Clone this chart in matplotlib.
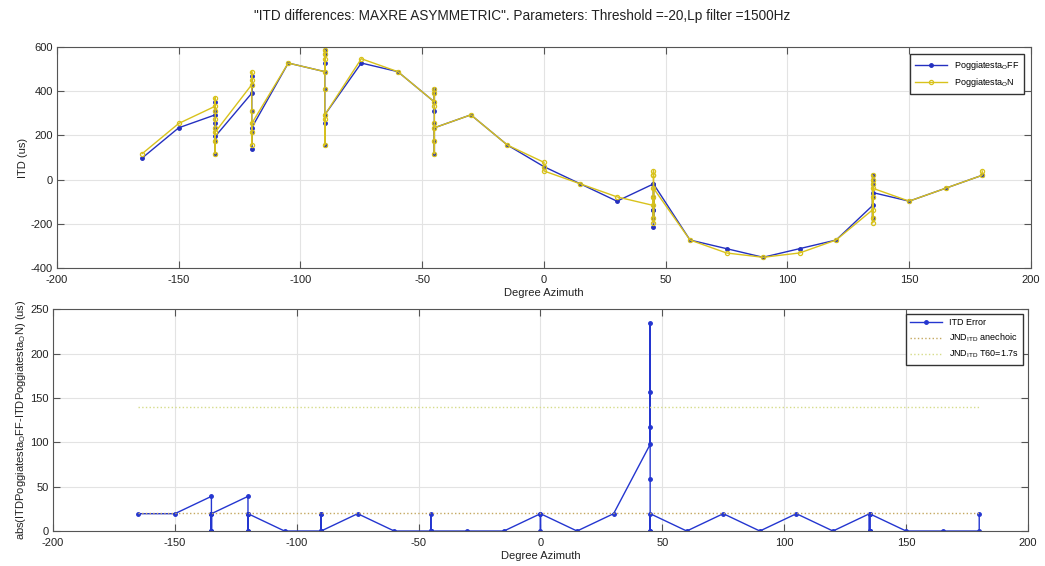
import numpy as np
import matplotlib.pyplot as plt

plt.rcParams['font.family'] = ['Liberation Sans', 'DejaVu Sans']
plt.rcParams['axes.unicode_minus'] = False

# ITD lags in samples (fs = 51200 Hz), one entry per measured direction
fs = 51200.0

azimuth = np.array([
    -165, -150,
    -135, -135, -135, -135, -135, -135, -135, -135,
    -120, -120, -120, -120, -120, -120, -120,
    -105,
    -90, -90, -90, -90, -90, -90, -90, -90,
    -75, -60,
    -45, -45, -45, -45, -45, -45, -45, -45,
    -30, -15,
    0, 0, 0,
    15, 30,
    45, 45, 45, 45, 45, 45, 45, 45,
    60, 75, 90, 105, 120,
    135, 135, 135, 135, 135, 135, 135, 135,
    150, 165,
    180, 180])

lag_ff = np.array([
    5, 12,
    15, 18, 16, 13, 12, 9, 6, 10,
    20, 24, 22, 16, 7, 11, 12,
    27,
    25, 30, 29, 27, 21, 13, 8, 15,
    27, 25,
    18, 21, 20, 16, 13, 9, 6, 12,
    15, 8,
    3, 3, 3,
    -1, -5,
    -1, -11, -7, -4, -7, -4, -9, -1,
    -14, -16, -18, -16, -14,
    -6, 1, 0, -1, -9, -4, -9, -3,
    -5, -2,
    1, 1])

lag_n = np.array([
    6, 13,
    17, 19, 16, 14, 12, 9, 6, 11,
    22, 25, 23, 16, 8, 11, 13,
    27,
    25, 30, 29, 28, 21, 14, 8, 15,
    28, 25,
    18, 21, 20, 17, 13, 9, 6, 12,
    15, 8,
    4, 3, 2,
    -1, -4,
    -6, 1, 1, 2, -10, -4, -9, -2,
    -14, -17, -18, -17, -14,
    -7, 1, 0, -1, -10, -4, -9, -2,
    -5, -2,
    1, 2])

itd_ff = lag_ff / fs * 1e6
itd_n = lag_n / fs * 1e6
itd_err = np.abs(itd_ff - itd_n)

jnd_anechoic = 20
jnd_t60 = 140

c_ff = '#2430c0'
c_n = '#d8c21c'
c_err = '#2436d0'
c_grid = '#e3e3e3'
c_axis = '#555555'

fig = plt.figure(figsize=(10.45, 5.66), dpi=100)
ax1 = fig.add_axes([0.0545, 0.5265, 0.932, 0.3905])
ax2 = fig.add_axes([0.0507, 0.0618, 0.933, 0.392])

fig.text(0.5, 0.972, '"ITD differences: MAXRE ASYMMETRIC". Parameters: Threshold =-20,Lp filter =1500Hz',
         ha='center', va='center', fontsize=9.8, color='#222222')

ax1.plot(azimuth, itd_ff, '-', color=c_ff, lw=1.0, marker='.', ms=5, label='Poggiatesta$_\\mathregular{O}$FF')
ax1.plot(azimuth, itd_n, '-', color=c_n, lw=1.0, marker='o', ms=3, mfc='none', mew=0.9,
         label='Poggiatesta$_\\mathregular{O}$N')
ax1.set_xlim(-200, 200)
ax1.set_ylim(-400, 600)
ax1.set_yticks(np.arange(-400, 601, 200))
ax1.set_ylabel('ITD (us)', fontsize=8, color='#222222', labelpad=2)
ax1.set_xlabel('Degree Azimuth', fontsize=8, color='#222222', labelpad=2)
ax1.legend(loc='upper right', fontsize=6.5, fancybox=False, edgecolor='#333333', framealpha=1,
           handlelength=3.5, borderpad=0.5, labelspacing=0.5, borderaxespad=0.8)

ax2.plot(azimuth, itd_err, '-', color=c_err, lw=1.0, marker='.', ms=5, label='ITD Error')
ax2.plot([azimuth.min(), azimuth.max()], [jnd_anechoic, jnd_anechoic], ':', color='#c4a860', lw=1.0,
         label='JND$_\\mathregular{ITD}$ anechoic')
ax2.plot([azimuth.min(), azimuth.max()], [jnd_t60, jnd_t60], ':', color='#d6dc8a', lw=1.0,
         label='JND$_\\mathregular{ITD}$ T60=1.7s')
ax2.set_xlim(-200, 200)
ax2.set_ylim(0, 250)
ax2.set_yticks(np.arange(0, 251, 50))
ax2.set_ylabel('abs(ITDPoggiatesta$_\\mathregular{O}$FF-ITDPoggiatesta$_\\mathregular{O}$N) (us)',
               fontsize=8, color='#222222', labelpad=2)
ax2.set_xlabel('Degree Azimuth', fontsize=8, color='#222222', labelpad=2)
ax2.legend(loc='upper right', fontsize=6.5, fancybox=False, edgecolor='#333333', framealpha=1,
           handlelength=3.5, borderpad=0.5, labelspacing=0.5, borderaxespad=0.5)

for ax in (ax1, ax2):
    ax.set_xticks(np.arange(-200, 201, 50))
    ax.grid(True, color=c_grid, lw=0.8)
    ax.set_axisbelow(True)
    ax.tick_params(direction='in', length=5, width=0.8, colors=c_axis, labelsize=8,
                   labelcolor='#222222', top=True, right=True, pad=3)
    ax.tick_params(axis='x', pad=5)
    for s in ax.spines.values():
        s.set_color(c_axis)
        s.set_linewidth(0.8)

fig.savefig('out.png', dpi=100)
